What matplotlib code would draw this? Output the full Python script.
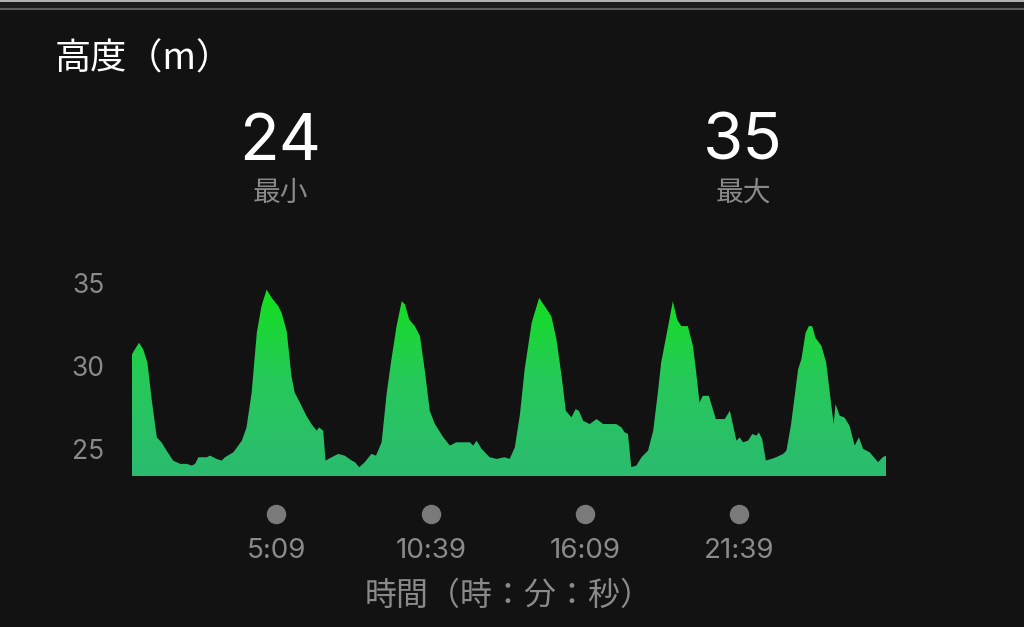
import numpy as np
import matplotlib
matplotlib.use("Agg")
import matplotlib.pyplot as plt
from matplotlib.colors import LinearSegmentedColormap

# elapsed time (s) and altitude (m)
t_sec = [0, 4, 15, 24, 33, 42, 53, 63, 74, 88, 103, 117, 128, 135, 142, 152, 160, 167,
         181, 192, 199, 217, 235, 245, 256, 267, 277, 288, 299, 313, 320, 331, 341, 348,
         359, 373, 384, 395, 400, 409, 414, 427, 441, 455, 470, 477, 486, 498, 512, 522,
         534, 545, 555, 566, 577, 584, 593, 605, 616, 626, 637, 648, 666, 680, 694, 723,
         730, 737, 748, 765, 780, 797, 808, 819, 830, 840, 855, 871, 883, 897, 908, 919,
         928, 940, 949, 956, 965, 979, 994, 1008, 1036, 1047, 1054, 1061, 1068, 1079, 1090,
         1104, 1115, 1125, 1132, 1147, 1157, 1166, 1175, 1189, 1200, 1207, 1214, 1221, 1234,
         1249, 1268, 1279, 1293, 1300, 1307, 1318, 1327, 1336, 1341, 1348, 1356, 1368, 1378,
         1393, 1400, 1410, 1425, 1432, 1441, 1448, 1455, 1462, 1475, 1485, 1494, 1501, 1505,
         1514, 1524, 1535, 1546, 1555, 1564, 1578, 1596, 1606, 1613]
alt_m = [30.7, 30.9, 31.4, 31.0, 30.2, 28.0, 25.7, 25.4, 24.9, 24.3, 24.1, 24.1, 24.0, 24.1,
         24.5, 24.5, 24.5, 24.6, 24.4, 24.3, 24.5, 24.8, 25.5, 26.3, 28.4, 32.0, 33.6, 34.6,
         34.1, 33.6, 33.2, 32.1, 29.4, 28.4, 27.8, 27.0, 26.5, 26.1, 26.3, 26.1, 24.3, 24.5,
         24.7, 24.6, 24.3, 24.2, 23.9, 24.2, 24.7, 24.6, 25.4, 28.4, 30.4, 32.4, 33.9, 33.7,
         32.8, 32.4, 31.8, 29.8, 27.3, 26.5, 25.7, 25.2, 25.4, 25.4, 25.2, 25.5, 25.0, 24.5,
         24.4, 24.5, 24.4, 25.1, 27.1, 29.8, 32.6, 34.1, 33.6, 33.0, 31.6, 29.4, 27.3, 26.9,
         27.4, 27.3, 26.7, 26.5, 26.8, 26.5, 26.5, 26.3, 26.0, 25.9, 23.9, 24.0, 24.5, 24.9,
         26.1, 28.4, 30.2, 32.4, 33.9, 32.8, 32.4, 32.4, 31.2, 29.6, 27.8, 28.2, 28.2, 26.8,
         26.8, 27.3, 25.5, 25.7, 25.4, 25.5, 25.9, 25.8, 26.0, 25.6, 24.3, 24.4, 24.5, 24.7,
         24.9, 26.5, 29.8, 30.4, 32.0, 32.4, 32.4, 31.7, 31.2, 30.2, 28.1, 26.5, 27.7, 27.0,
         26.9, 26.4, 25.2, 25.7, 25.0, 24.8, 24.2, 24.5, 24.6]

y_ticks = [25, 30, 35]
x_ticks = [309, 639, 969, 1299]
x_labels = ["5:09", "10:39", "16:09", "21:39"]
min_val, max_val = "24", "35"

bg = "#121212"
grey = "#8a8a8a"
cjk = ["Noto Sans CJK JP", "DejaVu Sans"]
num_font = ["Inter", "DejaVu Sans"]

W, H = 1024, 627
fig = plt.figure(figsize=(W / 100, H / 100), dpi=100, facecolor=bg)

# thin header lines at the very top
fig.add_artist(plt.Line2D([0, 1], [1 - 0.5 / H, 1 - 0.5 / H], color="#cfcfcf", lw=1.2))
fig.add_artist(plt.Rectangle((0, 1 - 8 / H), 1, 7 / H, color="#1b1b1b", lw=0))
fig.add_artist(plt.Line2D([0, 1], [1 - 9 / H, 1 - 9 / H], color="#5c5c5c", lw=1.5))

ax = fig.add_axes([132 / W, (H - 476) / H, (886 - 132) / W, 206 / H])
ax.set_facecolor(bg)
ymin, ymax = 23.37, 35.78
ax.set_xlim(0, t_sec[-1])
ax.set_ylim(ymin, ymax)

# gradient-filled area
poly = ax.fill_between(t_sec, alt_m, ymin, color="none", lw=0)
cmap = LinearSegmentedColormap.from_list("g", ["#2bbb70", "#27c95a", "#10e218"])
grad = np.linspace(0, 1, 256).reshape(-1, 1)
img = ax.imshow(grad, cmap=cmap, aspect="auto", origin="lower",
                extent=[0, t_sec[-1], ymin, 35.0], zorder=2)
img.set_clip_path(poly.get_paths()[0], transform=ax.transData)

for s in ax.spines.values():
    s.set_visible(False)

ax.set_yticks(y_ticks)
ax.set_yticklabels([str(v) for v in y_ticks], family=num_font, fontsize=19, color=grey)
ax.set_xticks(x_ticks)
ax.set_xticklabels(x_labels, family=num_font, fontsize=20, color=grey)
ax.tick_params(axis="y", length=0, pad=20)
ax.tick_params(axis="x", length=0, pad=45)

# grey dots above the time labels
ax.plot(x_ticks, [-0.184] * len(x_ticks), "o", ms=13, color="#7a7a7a",
        transform=ax.get_xaxis_transform(), clip_on=False)

ax.set_xlabel("時間（時：分：秒）", family=cjk, fontsize=23, color=grey, labelpad=11)

fig.text(55 / W, 1 - 70 / H, "高度（m）", family=cjk, fontsize=26, color="white",
         ha="left", va="baseline")
fig.text(280 / W, 1 - 160 / H, min_val, family=num_font, fontsize=47, color="white",
         ha="center", va="baseline")
fig.text(743 / W, 1 - 160 / H, max_val, family=num_font, fontsize=47, color="white",
         ha="center", va="baseline")
fig.text(280 / W, 1 - 201 / H, "最小", family=cjk, fontsize=20, color=grey,
         ha="center", va="baseline")
fig.text(743 / W, 1 - 201 / H, "最大", family=cjk, fontsize=20, color=grey,
         ha="center", va="baseline")

fig.savefig("out.png", dpi=100, facecolor=bg)
